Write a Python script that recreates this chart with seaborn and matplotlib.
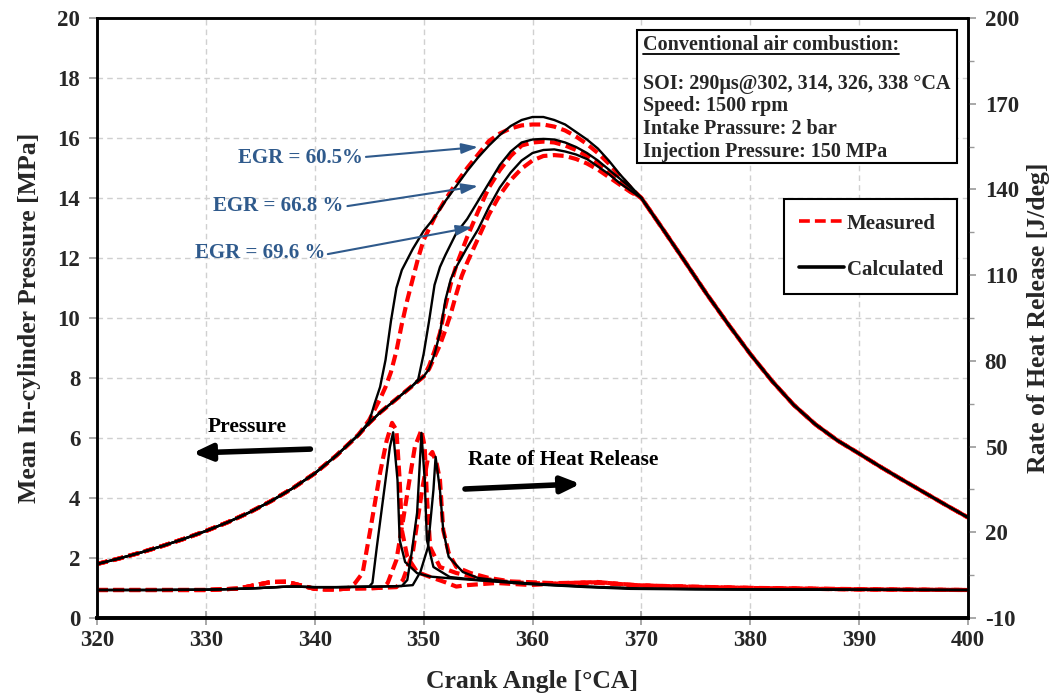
import numpy as np
import pandas as pd
import matplotlib
matplotlib.use("Agg")
import matplotlib.pyplot as plt
import seaborn as sns
from matplotlib.lines import Line2D
from matplotlib.patches import Rectangle

# ---------------- data ----------------
# shared compression part of the pressure traces [MPa]
comp_ca = [320, 322, 324, 326, 328, 330, 332, 334, 336, 338, 340, 342, 344]
comp_p = [1.80, 1.98, 2.18, 2.40, 2.64, 2.90, 3.19, 3.52, 3.90, 4.33, 4.82, 5.42, 6.10]
# shared expansion part
exp_ca = [370, 372, 374, 376, 378, 380, 382, 384, 386, 388, 390, 392, 394, 396, 398, 400]
exp_p = [14.0, 12.95, 11.88, 10.8, 9.78, 8.8, 7.9, 7.1, 6.45, 5.92, 5.48, 5.03, 4.6, 4.18, 3.76, 3.35]

# combustion part, calculated
calcA_ca = [345, 345.5, 346, 346.5, 347, 347.5, 348, 349, 350, 351, 352, 353, 354, 355, 356, 357, 358, 359, 360, 361, 362, 363, 364, 365, 366, 367, 368, 369]
calcA_p = [6.55, 7.15, 7.7, 8.6, 9.9, 11.0, 11.6, 12.3, 12.9, 13.35, 13.9, 14.4, 14.9, 15.35, 15.75, 16.1, 16.4, 16.6, 16.7, 16.7, 16.6, 16.45, 16.2, 15.95, 15.65, 15.25, 14.8, 14.4]
calcB_ca = [345, 346, 347, 348, 349, 349.5, 350, 350.5, 351, 351.5, 352, 353, 354, 355, 356, 357, 358, 359, 360, 361, 362, 363, 364, 365, 366, 367, 368, 369]
calcB_p = [6.5, 6.85, 7.15, 7.45, 7.75, 7.95, 8.8, 9.9, 11.1, 11.7, 12.1, 12.83, 13.3, 13.9, 14.5, 15.1, 15.55, 15.85, 15.95, 15.97, 15.95, 15.85, 15.7, 15.5, 15.25, 14.95, 14.65, 14.35]
calcC_ca = [345, 346, 347, 348, 349, 350, 350.5, 351, 351.5, 352, 352.5, 353, 354, 355, 356, 357, 358, 359, 360, 361, 362, 363, 364, 365, 366, 367, 368, 369]
calcC_p = [6.5, 6.85, 7.15, 7.45, 7.75, 8.05, 8.3, 8.8, 9.5, 10.6, 11.3, 11.7, 12.35, 12.95, 13.7, 14.35, 14.85, 15.25, 15.5, 15.6, 15.62, 15.55, 15.45, 15.3, 15.05, 14.8, 14.5, 14.25]
# combustion part, measured
measA_ca = [345, 345.5, 346, 346.5, 347, 347.5, 348, 348.5, 349, 349.5, 350, 351, 352, 353, 354, 355, 356, 357, 358, 359, 360, 361, 362, 363, 364, 365, 366, 367, 368, 369]
measA_p = [6.6, 6.95, 7.3, 7.7, 8.2, 8.9, 9.8, 10.6, 11.3, 12.0, 12.6, 13.35, 13.95, 14.5, 15.0, 15.45, 15.9, 16.15, 16.32, 16.42, 16.45, 16.45, 16.38, 16.25, 16.05, 15.8, 15.5, 15.15, 14.75, 14.35]
measB_ca = [345, 346, 347, 348, 349, 350, 350.5, 351, 351.5, 352, 352.5, 353, 354, 355, 356, 357, 358, 359, 360, 361, 362, 363, 364, 365, 366, 367, 368, 369]
measB_p = [6.5, 6.85, 7.15, 7.45, 7.75, 8.05, 8.4, 8.9, 9.5, 10.4, 11.15, 11.75, 12.7, 13.55, 14.35, 14.93, 15.4, 15.75, 15.85, 15.88, 15.85, 15.75, 15.6, 15.4, 15.15, 14.85, 14.55, 14.25]
measC_ca = [345, 346, 347, 348, 349, 350, 350.5, 351, 351.5, 352, 352.5, 353, 353.5, 354, 355, 356, 357, 358, 359, 360, 361, 362, 363, 364, 365, 366, 367, 368, 369]
measC_p = [6.5, 6.85, 7.15, 7.45, 7.75, 8.05, 8.3, 8.7, 9.1, 9.6, 10.15, 10.8, 11.4, 11.85, 12.65, 13.45, 14.1, 14.6, 14.98, 15.25, 15.4, 15.43, 15.4, 15.3, 15.15, 14.95, 14.7, 14.45, 14.2]

# rate of heat release [J/deg]
hr_calcA_ca = [320, 325, 330, 333, 335, 337, 338, 339, 340, 342, 344, 345, 345.3, 345.7, 346.3, 346.9, 347.2, 347.6, 347.8, 348.3, 349.4, 350.6, 352.1, 355, 359.5, 365, 369, 375, 385, 400]
hr_calcA = [-0.2, -0.2, -0.1, 0.2, 0.5, 0.9, 1.0, 0.9, 0.8, 0.8, 0.9, 1.0, 2.3, 14.8, 32.4, 49.8, 55.0, 38.3, 17.3, 9.6, 5.7, 4.5, 4.0, 3.2, 1.9, 0.8, 0.2, 0.0, -0.1, -0.2]
hr_calcB_ca = [320, 325, 330, 333, 335, 337, 338, 339, 340, 342, 344, 346, 348, 348.5, 348.9, 349.4, 349.8, 350.1, 350.3, 350.9, 352.4, 355, 360, 365, 370, 380, 400]
hr_calcB = [-0.2, -0.2, -0.1, 0.2, 0.5, 0.9, 1.0, 0.9, 0.8, 0.8, 0.9, 1.0, 1.2, 3.3, 12.8, 26.8, 54.8, 38.3, 17.3, 7.85, 4.35, 3.3, 2.0, 1.0, 0.3, 0.0, -0.2]
hr_calcC_ca = [320, 325, 330, 333, 335, 337, 338, 339, 340, 342, 344, 346, 348, 349.0, 349.7, 350.4, 350.9, 351.1, 351.5, 351.8, 352.3, 353.6, 355, 358, 362, 366, 370, 380, 400]
hr_calcC = [-0.2, -0.2, -0.1, 0.2, 0.5, 0.9, 1.0, 0.9, 0.8, 0.8, 0.9, 1.0, 1.2, 1.5, 6.1, 14.8, 34.8, 46.4, 34.8, 20.8, 11.4, 6.1, 4.0, 2.6, 1.5, 0.8, 0.3, 0.0, -0.2]
hr_measA_ca = [320, 325, 330, 333, 334.5, 336, 337.4, 338.6, 340, 341, 342, 343, 343.7, 344.4, 345.1, 346.0, 346.6, 347.1, 347.5, 347.8, 348.0, 348.5, 349.4, 350.5, 352, 353, 354, 356.7, 359.8, 363, 366, 369, 375, 381, 390, 400]
hr_measA = [-0.2, -0.2, -0.2, 0.3, 1.5, 2.6, 2.7, 1.5, 0.2, 0.0, 0.0, 0.3, 2.2, 5.8, 20.8, 40.8, 52.0, 58.3, 55.8, 38.3, 20.8, 11.4, 6.1, 4.5, 2.5, 1.0, 1.5, 2.25, 1.55, 2.2, 2.6, 1.55, 0.8, 0.5, 0.1, -0.2]
hr_measB_ca = [320, 325, 330, 333, 334.5, 336, 337.4, 338.6, 340, 341, 342, 343, 345, 346.3, 346.7, 347.5, 348.1, 348.7, 349.2, 349.8, 350.1, 350.3, 350.6, 351.5, 353.0, 355, 358, 362, 366, 370, 380, 390, 400]
hr_measB = [-0.2, -0.2, -0.2, 0.3, 1.5, 2.6, 2.7, 1.5, 0.2, 0.0, 0.0, 0.3, 0.4, 0.6, 2.25, 10.3, 24.0, 38.3, 50.0, 55.8, 49.8, 32.4, 14.8, 7.85, 5.75, 4.0, 2.5, 2.0, 2.3, 1.3, 0.5, 0.0, -0.2]
hr_measC_ca = [320, 325, 330, 333, 334.5, 336, 337.4, 338.6, 340, 341, 342, 343, 345, 347.5, 348.1, 349.0, 349.9, 350.4, 350.8, 351.2, 351.5, 351.8, 352.3, 353.0, 354.3, 356, 358, 362, 366, 370, 380, 390, 400]
hr_measC = [-0.2, -0.2, -0.2, 0.3, 1.5, 2.6, 2.7, 1.5, 0.2, 0.0, 0.0, 0.3, 0.4, 0.8, 3.3, 12.8, 35.8, 46.0, 48.1, 44.0, 38.3, 20.8, 12.8, 7.85, 5.75, 4.0, 2.8, 2.2, 2.5, 1.4, 0.5, 0.0, -0.2]

# ---------------- assemble long tables ----------------
rows = []
def add_p(case, kind, ca, p):
    for a, v in zip(comp_ca + ca + exp_ca, comp_p + p + exp_p):
        rows.append((case, kind, a, v))
add_p("A", "Calculated", calcA_ca, calcA_p)
add_p("B", "Calculated", calcB_ca, calcB_p)
add_p("C", "Calculated", calcC_ca, calcC_p)
add_p("A", "Measured", measA_ca, measA_p)
add_p("B", "Measured", measB_ca, measB_p)
add_p("C", "Measured", measC_ca, measC_p)
df_p = pd.DataFrame(rows, columns=["case", "kind", "ca", "value"])

rows = []
for case, kind, ca, v in [("A", "Calculated", hr_calcA_ca, hr_calcA),
                          ("B", "Calculated", hr_calcB_ca, hr_calcB),
                          ("C", "Calculated", hr_calcC_ca, hr_calcC),
                          ("A", "Measured", hr_measA_ca, hr_measA),
                          ("B", "Measured", hr_measB_ca, hr_measB),
                          ("C", "Measured", hr_measC_ca, hr_measC)]:
    for a, val in zip(ca, v):
        rows.append((case, kind, a, val))
df_hr = pd.DataFrame(rows, columns=["case", "kind", "ca", "value"])

# ---------------- style ----------------
sns.set_theme(style="white")
plt.rcParams['font.family'] = ['Liberation Serif', 'DejaVu Serif']
plt.rcParams['font.weight'] = 'bold'
plt.rcParams['axes.labelweight'] = 'bold'
plt.rcParams['axes.unicode_minus'] = False

RED = "#FF0000"
BLUE = "#2F5A8C"
FS_TICK = 16.5
FS_LAB = 18.5
RED_DASH = (0, (2.6, 1.3))

fig = plt.figure(figsize=(10.56, 6.94), dpi=100)
ax = fig.add_axes([97 / 1056, 76 / 694, 871 / 1056, 600 / 694])
ax2 = ax.twinx()

def draw(axis, df):
    for kind, color, ls, lw in [("Measured", RED, RED_DASH, 3.0), ("Calculated", "black", "-", 1.7)]:
        for case in ["A", "B", "C"]:
            d = df[(df.kind == kind) & (df.case == case)]
            sns.lineplot(data=d, x="ca", y="value", ax=axis, color=color, linestyle=ls,
                         lw=lw, estimator=None, sort=False, legend=False)

draw(ax, df_p)
draw(ax2, df_hr)

ax.set_xlim(320, 400)
ax.set_ylim(0, 20)
ax.set_xticks(range(320, 401, 10))
ax.set_yticks(range(0, 21, 2))
ax2.set_ylim(-10, 200)
ax2.set_yticks(range(-10, 201, 30))
ax2.set_yticks(range(5, 200, 30), minor=True)

ax.grid(True, color="#D0D0D0", linestyle=(0, (4, 3)), lw=1.0)
ax.set_axisbelow(True)
ax2.grid(False)

ax.tick_params(axis="y", direction="out", length=6, width=1.2, color="#9A9A9A", labelsize=FS_TICK, pad=6, left=True)
ax.tick_params(axis="x", direction="inout", length=10, width=1.2, color="#9A9A9A", labelsize=FS_TICK, pad=4, bottom=True)
ax2.tick_params(axis="y", which="major", direction="out", length=6, width=1.2, color="#9A9A9A", labelsize=FS_TICK, pad=6, right=True)
ax2.tick_params(axis="y", which="minor", direction="out", length=4, width=1.0, color="#9A9A9A", right=True)
for lab in ax.get_xticklabels() + ax.get_yticklabels() + ax2.get_yticklabels():
    lab.set_fontweight("bold")

for a in (ax, ax2):
    for s in a.spines.values():
        s.set_color("black")
        s.set_linewidth(1.8)
    a.spines["bottom"].set_linewidth(2.6)

ax.set_xlabel("Crank Angle [°CA]", fontsize=FS_LAB, fontweight="bold", labelpad=13)
ax.set_ylabel("Mean In-cylinder Pressure [MPa]", fontsize=FS_LAB, fontweight="bold", labelpad=12)
ax2.set_ylabel("Rate of Heat Release [J/deg]", fontsize=FS_LAB, fontweight="bold", rotation=90, labelpad=6)

# ---------------- annotations ----------------
egr = [("EGR = 60.5%", (338.7, 15.33), (344.7, 15.37), (355.0, 15.7)),
       ("EGR = 66.8 %", (336.6, 13.73), (343.0, 13.73), (355.0, 14.4)),
       ("EGR = 69.6 %", (335.0, 12.17), (341.2, 12.13), (354.5, 13.03))]
for txt, pos, start, end in egr:
    ax.text(pos[0], pos[1], txt, color=BLUE, fontsize=15, fontweight="bold", ha="center", va="center")
    ax.annotate("", xy=end, xytext=start,
                arrowprops=dict(arrowstyle="-|>,head_length=0.7,head_width=0.22", color=BLUE, lw=1.5,
                                shrinkA=0, shrinkB=0, mutation_scale=14))

ax.text(333.8, 6.37, "Pressure", fontsize=15.5, fontweight="bold", ha="center", va="center", color="black")
ax.annotate("", xy=(328.8, 5.5), xytext=(339.6, 5.63),
            arrowprops=dict(arrowstyle="-|>,head_length=0.8,head_width=0.35", color="black", lw=4,
                            shrinkA=0, shrinkB=0, mutation_scale=14))
ax.text(362.8, 5.27, "Rate of Heat Release", fontsize=15.5, fontweight="bold", ha="center", va="center", color="black")
ax.annotate("", xy=(364.4, 4.47), xytext=(353.8, 4.3),
            arrowprops=dict(arrowstyle="-|>,head_length=0.8,head_width=0.35", color="black", lw=4,
                            shrinkA=0, shrinkB=0, mutation_scale=14))

# info box (axes fraction coords computed from pixel layout)
def fx(px):
    return (px - 97) / 871
def fy(py):
    return (618 - py) / 600

ax.add_patch(Rectangle((fx(637), fy(163)), fx(957) - fx(637), fy(30) - fy(163), transform=ax.transAxes,
                       facecolor="white", edgecolor="black", lw=1.5, zorder=5))
title = ax.text(fx(643), fy(45), "Conventional air combustion:", transform=ax.transAxes, fontsize=14.5,
                fontweight="bold", ha="left", va="center", zorder=6)
info_lines = ["SOI: 290μs@302, 314, 326, 338 °CA", "Speed: 1500 rpm",
              "Intake Prassure: 2 bar", "Injection Pressure: 150 MPa"]
for line, py in zip(info_lines, [82, 104, 127, 150]):
    ax.text(fx(643), fy(py + 1.5), line, transform=ax.transAxes, fontsize=14.5, fontweight="bold",
            ha="left", va="center", zorder=6)

# legend
handles = [Line2D([], [], color=RED, lw=2.6, linestyle=(0, (3, 1.4))),
           Line2D([], [], color="black", lw=2.6)]
leg = ax2.legend(handles, ["Measured", "Calculated"], loc="upper left",
                 bbox_to_anchor=(fx(784), fy(199)), prop=dict(family="Liberation Serif", weight="bold", size=15),
                 frameon=True, fancybox=False, edgecolor="black", framealpha=1, labelspacing=1.25,
                 handlelength=2.2, handletextpad=0.1, borderpad=0.7, borderaxespad=0)
leg.get_frame().set_linewidth(1.5)

# underline for the info box title
fig.canvas.draw()
bb = title.get_window_extent()
inv = fig.transFigure.inverted()
(x0, y0), (x1, _) = inv.transform([(bb.x0, bb.y0 + 1), (bb.x1, bb.y0 + 1)])
fig.add_artist(Line2D([x0, x1], [y0, y0], color="black", lw=1.3, transform=fig.transFigure, zorder=10))

fig.savefig("out.png", dpi=100)
